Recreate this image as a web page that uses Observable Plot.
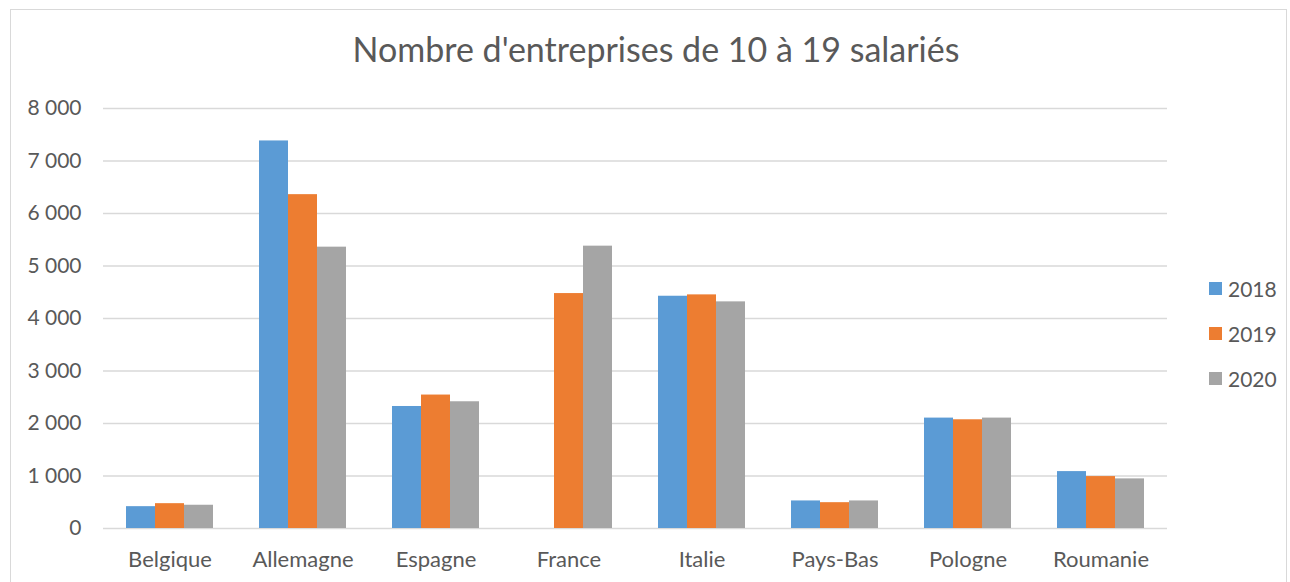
<!DOCTYPE html>
<html>
<head>
<meta charset="utf-8">
<script src="https://cdn.jsdelivr.net/npm/d3@7"></script>
<script src="https://cdn.jsdelivr.net/npm/@observablehq/plot@0.6"></script>
<style>
  html, body { margin: 0; padding: 0; background: #fff; }
  body { width: 1290px; height: 582px; position: relative; overflow: hidden; font-family: Lato, "Open Sans", sans-serif; color: #595959; }
  #frame { position: absolute; left: 10px; top: 9px; width: 1277px; height: 590px; border: 1px solid #d9d9d9; box-sizing: border-box; }
  #chart { position: absolute; left: 0; top: 0; }
  #title { position: absolute; left: 0; top: 29px; width: 1312px; text-align: center; font-size: 34px; line-height: 1.2; color: #595959; white-space: nowrap; }
  #legend { position: absolute; left: 1209px; top: 266px; }
  .item { display: flex; align-items: center; height: 45px; font-size: 21px; color: #595959; }
  .sw { width: 13px; height: 13px; margin-right: 6px; }
</style>
</head>
<body>
<div id="frame"></div>
<div id="chart"></div>
<div id="title">Nombre d'entreprises de 10 à 19 salariés</div>
<div id="legend"></div>
<script>
const countries = ["Belgique", "Allemagne", "Espagne", "France", "Italie", "Pays-Bas", "Pologne", "Roumanie"];
const years = ["2018", "2019", "2020"];
const values2018 = [416, 7382, 2324, null, 4424, 525, 2103, 1084];
const values2019 = [473, 6359, 2542, 4475, 4450, 492, 2071, 989];
const values2020 = [443, 5359, 2414, 5378, 4317, 525, 2103, 945];
const colors = ["#5B9BD5", "#ED7D31", "#A5A5A5"];
const yTicks = [0, 1000, 2000, 3000, 4000, 5000, 6000, 7000, 8000];

const series = [values2018, values2019, values2020];
const data = [];
countries.forEach((c, i) => {
  years.forEach((y, j) => {
    const v = series[j][i];
    if (v != null) data.push({country: c, year: y, value: v});
  });
});

const fmt = d => d3.format(",")(d).replace(/,/g, " ");

const chart = Plot.plot({
  width: 1290,
  height: 582,
  marginTop: 108,
  marginBottom: 54,
  marginLeft: 102,
  marginRight: 123,
  style: { fontFamily: "Lato, 'Open Sans', sans-serif", fontSize: "22px", color: "#595959", background: "transparent" },
  fx: { domain: countries, padding: 0, label: null },
  x: { domain: years, paddingInner: 0, paddingOuter: 0.754, axis: null },
  y: { domain: [0, 8000], label: null },
  color: { domain: years, range: colors },
  marks: [
    Plot.gridY(yTicks, { stroke: "#d9d9d9", strokeOpacity: 1, strokeWidth: 1.3 }),
    Plot.axisY(yTicks, { tickSize: 0, tickPadding: 22, tickFormat: fmt, label: null, fontSize: 21 }),
    Plot.axisFx({ anchor: "bottom", tickSize: 0, tickPadding: 23, label: null, fontSize: 22 }),
    Plot.barY(data, { fx: "country", x: "year", y: "value", fill: "year" })
  ]
});
document.getElementById("chart").appendChild(chart);

const legend = d3.select("#legend");
years.forEach((y, j) => {
  const item = legend.append("div").attr("class", "item");
  item.append("div").attr("class", "sw").style("background", colors[j]);
  item.append("span").text(y);
});
</script>
</body>
</html>
